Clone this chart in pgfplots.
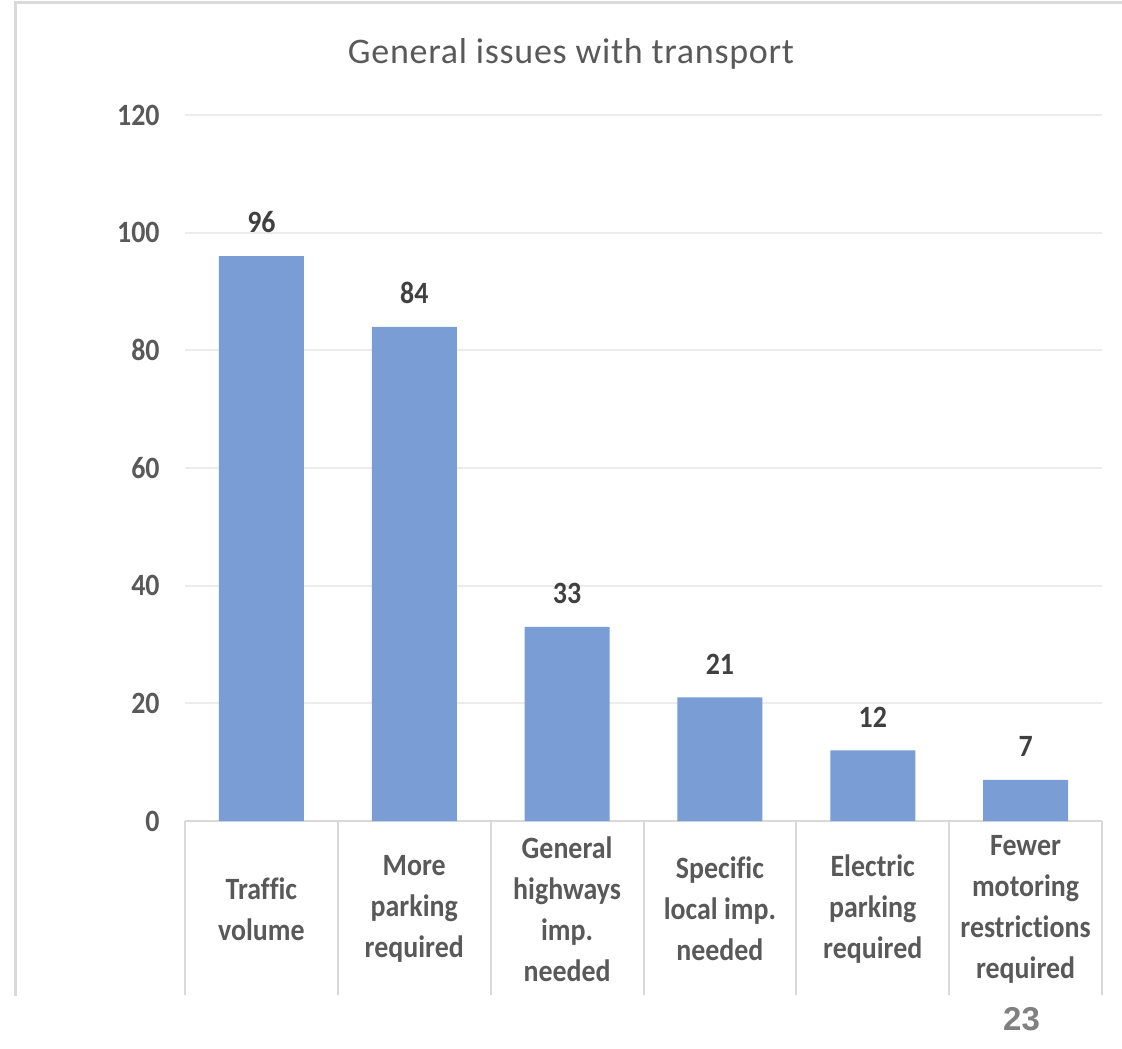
\documentclass[border=0pt]{standalone}
\usepackage{pgfplots}
\pgfplotsset{compat=1.18}
\usepackage{fontspec}
\setmainfont{Carlito}[FakeStretch=0.9, Ligatures=NoCommon]
\newfontfamily\titlefont{Carlito}[LetterSpace=2, Ligatures=NoCommon]
\newfontfamily\pagefont{Liberation Sans}
\definecolor{barblue}{RGB}{122,157,214}
\definecolor{txtgray}{RGB}{89,89,89}
\definecolor{valgray}{RGB}{64,64,64}
\definecolor{gridgray}{RGB}{236,236,236}
\definecolor{linegray}{RGB}{217,217,217}
\definecolor{pagegray}{RGB}{128,128,128}
\pgfplotsset{/pgf/number format/assume math mode=true}
\begin{document}
\begin{tikzpicture}
\useasboundingbox (0,0) rectangle (561pt,524pt);
\draw[linegray, line width=1.5pt] (7.5pt,26pt) -- (7.5pt,522.5pt) -- (561pt,522.5pt);
\begin{axis}[
  at={(92.5pt,113.5pt)}, anchor=south west,
  scale only axis, width=458.5pt, height=353pt,
  xmin=-0.5, xmax=5.5, ymin=0, ymax=120,
  ytick={0,20,...,120},
  xtick={0,...,5},
  xticklabels={{Traffic\\volume},{More\\parking\\required},{General\\highways\\imp.\\needed},{Specific\\local imp.\\needed},{Electric\\parking\\required},{Fewer\\motoring\\restrictions\\required}},
  axis lines=left,
  y axis line style={draw=none},
  x axis line style={linegray, line width=1pt, -},
  major tick length=0pt,
  ymajorgrids,
  grid style={gridgray, line width=1pt},
  extra x ticks={-0.5,0.5,1.5,2.5,3.5,4.5,5.5},
  extra x tick labels={},
  extra x tick style={major tick length=87pt, tick align=outside, tick style={linegray, line width=1pt}},
  yticklabel style={font=\fontsize{15.5}{18}\selectfont\bfseries, text=txtgray, anchor=east, inner sep=0pt, xshift=-12.5pt},
  xticklabel style={font=\fontsize{15.5}{20.5}\selectfont\bfseries, text=txtgray, align=center, anchor=center, yshift=-44pt},
  ybar, bar width=42.5pt,
  nodes near coords,
  nodes near coords style={font=\fontsize{15.5}{18}\selectfont\bfseries, text=valgray, anchor=south, inner sep=0pt, yshift=11.5pt},
]
\addplot[fill=barblue, draw=none] coordinates {(0,96) (1,84) (2,33) (3,21) (4,12) (5,7)};
\end{axis}
\node[anchor=base, text=txtgray, font=\titlefont\fontsize{18}{20}\selectfont] at (285.5pt,492pt) {General issues with transport};
\node[text=pagegray, font=\pagefont\bfseries\fontsize{16.5}{18}\selectfont] at (510.75pt,14.5pt) {23};
\end{tikzpicture}
\end{document}
